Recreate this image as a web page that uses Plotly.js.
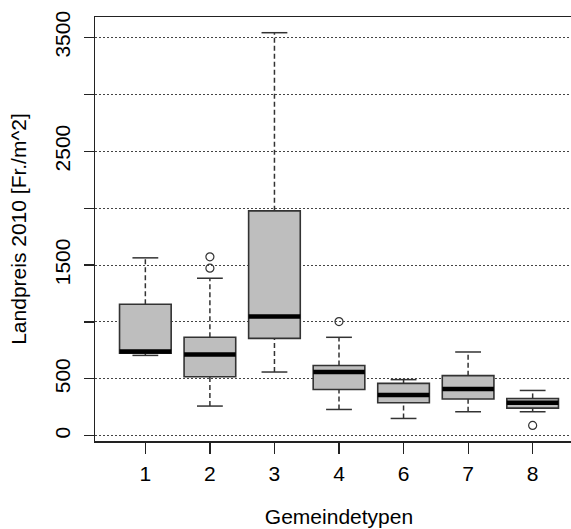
<!DOCTYPE html>
<html>
<head>
<meta charset="utf-8">
<script src="https://cdn.plot.ly/plotly-3.0.1.min.js"></script>
<style>
html,body{margin:0;padding:0;overflow:hidden;background:#fff;}
#chart{width:583px;height:529px;}
</style>
</head>
<body>
<div id="chart"></div>
<script>
// Data
var categories = ['1', '2', '3', '4', '6', '7', '8'];
var lowerWhisker = [706, 261, 560, 231, 152, 211, 211];
var q1 = [726, 519, 856, 407, 290, 323, 243];
var median = [741, 714, 1047, 560, 358, 411, 290];
var q3 = [1155, 865, 1976, 617, 460, 528, 328];
var upperWhisker = [1563, 1384, 3541, 865, 493, 736, 398];
var outliers = [[], [1472, 1572], [], [1003], [], [], [91]];
var yTickVals = [0, 500, 1000, 1500, 2000, 2500, 3000, 3500];
var yTickText = ['0', '500', '', '1500', '', '2500', '', '3500'];

var pos = categories.map(function (c, i) { return i; });
var boxW = 0.8, capW = 0.4;

function segs(fn) {
  var xs = [], ys = [];
  pos.forEach(function (p, i) {
    fn(p, i).forEach(function (s) {
      xs.push(s[0], s[2], null);
      ys.push(s[1], s[3], null);
    });
  });
  return {x: xs, y: ys};
}

var whisk = segs(function (p, i) {
  return [[p, q3[i], p, upperWhisker[i]], [p, lowerWhisker[i], p, q1[i]]];
});
var caps = segs(function (p, i) {
  return [[p - capW / 2, upperWhisker[i], p + capW / 2, upperWhisker[i]],
          [p - capW / 2, lowerWhisker[i], p + capW / 2, lowerWhisker[i]]];
});
var meds = segs(function (p, i) {
  return [[p - boxW / 2, median[i], p + boxW / 2, median[i]]];
});
var ox = [], oy = [];
outliers.forEach(function (arr, i) { arr.forEach(function (v) { ox.push(pos[i]); oy.push(v); }); });

var traces = [
  {
    type: 'box', x: pos, q1: q1, median: median, q3: q3,
    lowerfence: q1, upperfence: q3, width: boxW, whiskerwidth: 0,
    fillcolor: '#BEBEBE', line: {color: '#333333', width: 1.6},
    hoverinfo: 'skip', showlegend: false
  },
  {
    type: 'scatter', mode: 'lines', x: whisk.x, y: whisk.y,
    line: {color: '#333333', width: 1.5, dash: '5px,3px'},
    hoverinfo: 'skip', showlegend: false
  },
  {
    type: 'scatter', mode: 'lines', x: caps.x, y: caps.y,
    line: {color: '#333333', width: 1.5},
    hoverinfo: 'skip', showlegend: false
  },
  {
    type: 'scatter', mode: 'lines', x: meds.x, y: meds.y,
    line: {color: '#000000', width: 4.5},
    hoverinfo: 'skip', showlegend: false
  },
  {
    type: 'scatter', mode: 'markers', x: ox, y: oy,
    marker: {symbol: 'circle-open', size: 8, color: '#333333', line: {width: 1.2}},
    hoverinfo: 'skip', showlegend: false
  }
];

var layout = {
  width: 583, height: 529,
  margin: {l: 95, r: 0, t: 17, b: 88},
  paper_bgcolor: '#ffffff', plot_bgcolor: '#ffffff',
  font: {family: '"Liberation Sans", Arial, sans-serif', size: 21, color: '#000000'},
  showlegend: false,
  xaxis: {
    range: [-0.78, 6.78], tickmode: 'array', tickvals: pos, ticktext: categories,
    showgrid: false, zeroline: false,
    showline: true, linecolor: '#222222', linewidth: 1.5, mirror: true,
    ticks: 'outside', ticklen: 11, tickwidth: 1.2, tickcolor: '#222222',
    ticklabelstandoff: 2,
    title: {text: 'Gemeindetypen', font: {size: 21}, standoff: 25}
  },
  yaxis: {
    range: [-46, 3679], tickmode: 'array', tickvals: yTickVals, ticktext: yTickText,
    tickangle: -90, ticklabelstandoff: 5,
    showgrid: true, gridcolor: '#444444', gridwidth: 1, griddash: '2px,2px',
    zeroline: false,
    showline: true, linecolor: '#222222', linewidth: 1.5, mirror: true,
    ticks: 'outside', ticklen: 10, tickwidth: 1.2, tickcolor: '#222222',
    title: {text: 'Landpreis 2010 [Fr./m^2]', font: {size: 21}, standoff: 18}
  }
};

Plotly.newPlot('chart', traces, layout, {displayModeBar: false, staticPlot: true});
</script>
</body>
</html>
